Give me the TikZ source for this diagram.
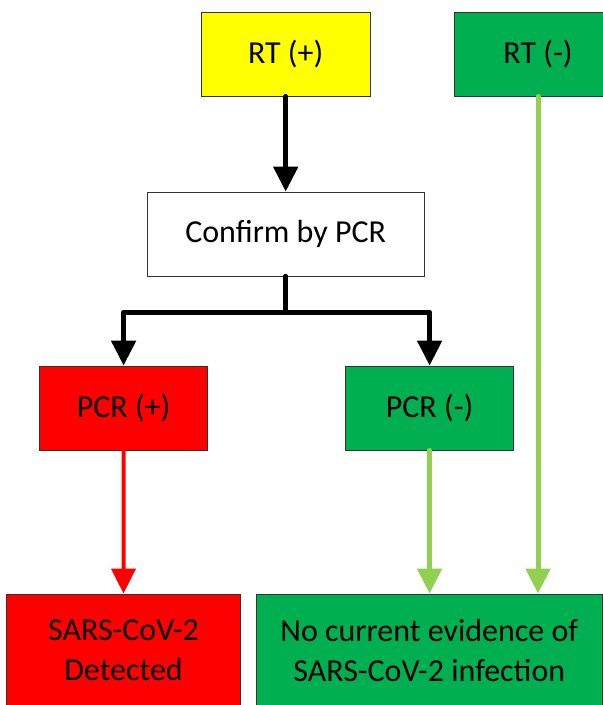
\documentclass[tikz,border=0pt]{standalone}
\usepackage{fontspec}
\setmainfont{Carlito}
\usetikzlibrary{arrows.meta}
\definecolor{rtyellow}{HTML}{FFFF00}
\definecolor{okgreen}{HTML}{00B050}
\definecolor{posred}{HTML}{FF0000}
\definecolor{arrowgreen}{HTML}{92D050}
\begin{document}
\begin{tikzpicture} [x=1pt, y=-1pt, box/.style={draw=black!80, line width=0.8pt, inner sep=0pt, font=\fontsize{32}{40}\selectfont, align=center},
flow/.style={line width=5pt, line cap=round, line join=round, -{Triangle[width=24pt,length=25pt]}},
black flow/.style={flow, black}, red flow/.style={flow, posred, line width=4pt}, green flow/.style={flow, arrowgreen}]

\useasboundingbox (0,0) rectangle (603,705);

%box centres, in pixels of the reference
\coordinate (A) at (285.7,54);
\coordinate (B) at (538,54);
\coordinate (C) at (285.7,234);
\coordinate (D) at (123.6,408);
\coordinate (E) at (429.6,408);
\coordinate (F) at (123.5,650);
\coordinate (G) at (429.3,650);
\coordinate (split) at (285.7,312);

\node[box, fill=rtyellow, minimum width=168.5pt, minimum height=84pt] (rtpos) at (A) {RT (+)};
\node[box, fill=okgreen, minimum width=168pt, minimum height=84pt] (rtneg) at (B) {RT (-)};
\node[box, fill=white, minimum width=276.5pt, minimum height=84pt] (confirm) at (C) {Confirm by PCR};
\node[box, fill=posred, minimum width=168pt, minimum height=84pt] (pcrpos) at (D) {PCR (+)};
\node[box, fill=okgreen, minimum width=168pt, minimum height=84pt] (pcrneg) at (E) {PCR (-)};
\node[box, fill=posred, minimum width=234.6pt, minimum height=112pt] (detected) at (F) {SARS-CoV-2\\Detected};
\node[box, fill=okgreen, minimum width=345.5pt, minimum height=112pt] (noevid) at (G) {No current evidence of\\SARS-CoV-2 infection};

\draw[black flow] (rtpos.south) -- (confirm.north);
\draw[black flow] (confirm.south) -- (split) -| (pcrpos.north);
\draw[black flow] (confirm.south) -- (split) -| (pcrneg.north);
\draw[red flow] (pcrpos.south) -- (detected.north);
\draw[green flow] (pcrneg.south) -- (noevid.north -| pcrneg.south);
\draw[green flow] (rtneg.south) -- (noevid.north -| rtneg.south);

\end{tikzpicture}
\end{document}
